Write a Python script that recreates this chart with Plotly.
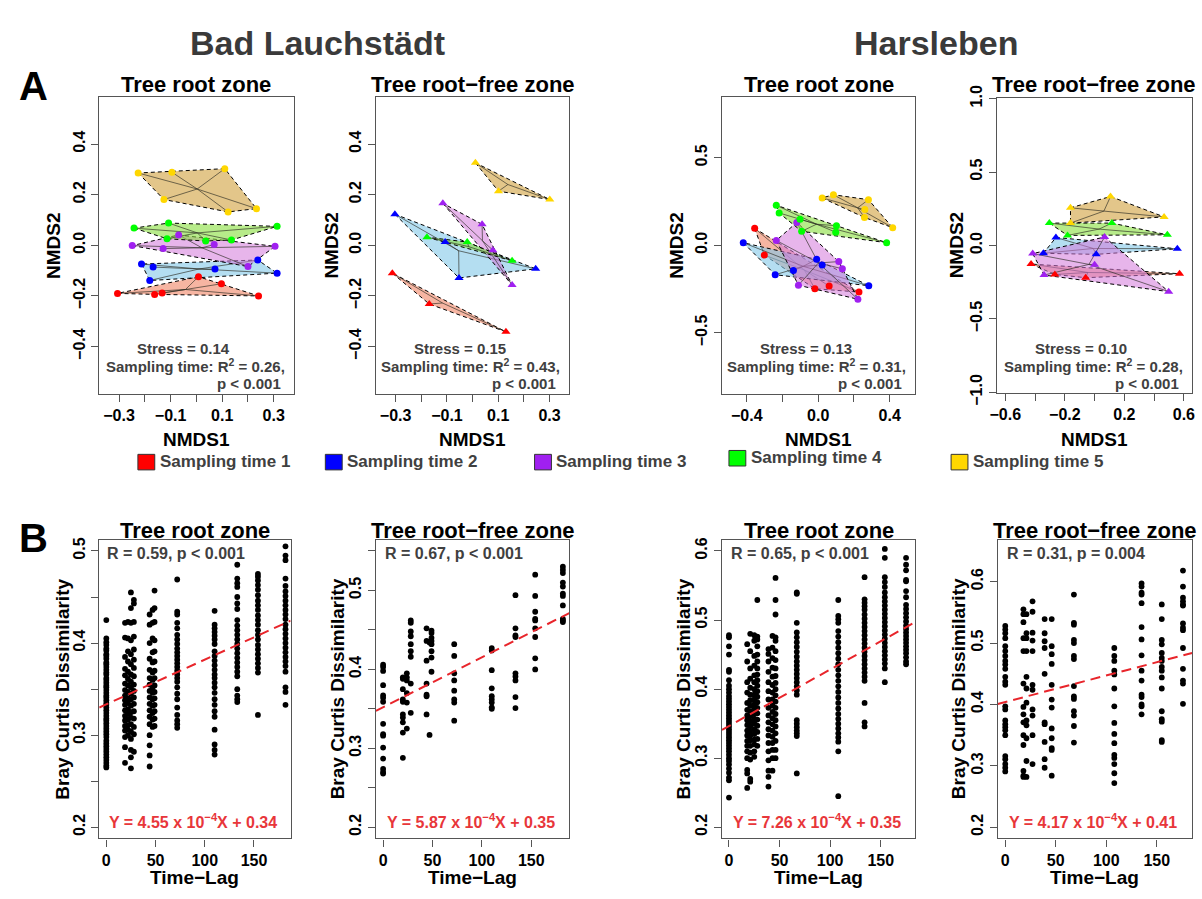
import plotly.graph_objects as go

W, H = 1202, 899
FONT = "Liberation Sans, Arial, Helvetica, sans-serif"
GRAY = "#404040"
AXC = "#555555"

# ---------------- data ----------------
site_titles = ["Bad Lauchstädt", "Harsleben"]
zone_titles = ["Tree root zone", "Tree root\u2212free zone", "Tree root zone", "Tree root\u2212free zone"]
group_names = ["Sampling time 1", "Sampling time 2", "Sampling time 3", "Sampling time 4", "Sampling time 5"]
group_colors = ["#FF0000", "#0000FF", "#A020F0", "#00FF00", "#FFD700"]
hull_fills = ["rgba(238,120,85,0.55)", "rgba(130,200,232,0.6)", "rgba(212,120,218,0.55)",
              "rgba(135,222,60,0.6)", "rgba(208,160,60,0.6)"]

# NMDS scores, one list per sampling time (1..5)
bl_root_nmds1 = [[-0.306, -0.162, -0.133, 0.008, 0.097, 0.241],
                 [-0.213, -0.168, -0.181, 0.072, 0.238, 0.313],
                 [-0.249, -0.129, -0.069, 0.069, 0.305, 0.200],
                 [-0.242, -0.108, -0.114, 0.036, 0.136, 0.313],
                 [-0.226, -0.095, 0.110, -0.126, 0.123, 0.233]]
bl_root_nmds2 = [[-0.190, -0.194, -0.188, -0.124, -0.152, -0.200],
                 [-0.074, -0.086, -0.139, -0.094, -0.058, -0.110],
                 [-0.001, -0.013, 0.041, 0.003, -0.004, -0.084],
                 [0.068, 0.088, 0.026, 0.017, 0.021, 0.075],
                 [0.286, 0.289, 0.303, 0.181, 0.132, 0.145]]

bl_free_nmds1 = [[-0.313, -0.169, 0.130],
                 [-0.303, -0.107, -0.053, 0.246],
                 [-0.116, 0.037, 0.079, 0.154],
                 [-0.178, -0.021, 0.154],
                 [0.011, 0.101, 0.301]]
bl_free_nmds2 = [[-0.110, -0.232, -0.342],
                 [0.123, 0.013, -0.129, -0.093],
                 [0.166, 0.083, -0.019, -0.157],
                 [0.032, 0.013, -0.061],
                 [0.326, 0.214, 0.181]]

h_root_nmds1 = [[-0.356, -0.302, -0.019, 0.061, 0.228],
                [-0.420, -0.241, -0.139, -0.009, 0.022, 0.283],
                [-0.235, -0.120, -0.111, 0.115, 0.135, 0.222],
                [-0.235, -0.219, -0.102, -0.093, 0.102, 0.098, 0.383],
                [0.022, 0.085, 0.281, 0.261, 0.259, 0.417]]
h_root_nmds2 = [[0.097, -0.056, -0.248, -0.233, -0.267],
                [0.015, -0.168, -0.144, -0.080, -0.112, -0.231],
                [0.028, 0.131, -0.228, -0.093, -0.134, -0.308],
                [0.229, 0.185, 0.149, 0.080, 0.112, 0.075, 0.015],
                [0.271, 0.289, 0.261, 0.205, 0.159, 0.101]]

h_free_nmds1 = [[-0.427, -0.267, -0.060, 0.571],
                [-0.260, -0.344, 0.011, 0.556],
                [-0.416, -0.340, 0.000, 0.067, 0.498],
                [-0.304, -0.182, 0.116, 0.489],
                [-0.162, -0.162, 0.107, 0.467]]
h_free_nmds2 = [[-0.126, -0.197, -0.219, -0.192],
                [0.055, -0.053, -0.060, -0.022],
                [-0.055, -0.201, -0.130, 0.058, -0.314],
                [0.153, 0.069, 0.153, 0.073],
                [0.257, 0.153, 0.334, 0.195]]

stress_vals = ["0.14", "0.15", "0.13", "0.10"]
r2_vals = ["0.26", "0.43", "0.31", "0.28"]
p_perm = ["0.001", "0.001", "0.001", "0.001"]

# Bray-Curtis dissimilarity vs time lag (days); one list per time lag
bl_root_lags = [0, 19, 22, 25, 28, 44, 47, 49, 72, 110, 133, 154, 182]
bl_root_bc = [
    [0.425, 0.405, 0.401, 0.398, 0.394, 0.392, 0.388, 0.386, 0.383, 0.379, 0.377, 0.374, 0.371, 0.368,
     0.366, 0.362, 0.36, 0.357, 0.354, 0.352, 0.349, 0.346, 0.343, 0.341, 0.338, 0.335, 0.333, 0.33,
     0.327, 0.324, 0.321, 0.318, 0.316, 0.313, 0.31, 0.307, 0.304, 0.301, 0.298, 0.294, 0.291, 0.288,
     0.285, 0.282, 0.279, 0.276, 0.273, 0.27, 0.267, 0.265],
    [0.422, 0.406, 0.385, 0.372, 0.365, 0.356, 0.349, 0.343, 0.338, 0.333, 0.327, 0.321, 0.316, 0.31,
     0.305, 0.298, 0.287, 0.27],
    [0.423, 0.405, 0.391, 0.38, 0.369, 0.361, 0.354, 0.347, 0.34, 0.335, 0.328, 0.323, 0.317, 0.311,
     0.306, 0.3],
    [0.455, 0.438, 0.422, 0.403, 0.388, 0.377, 0.366, 0.358, 0.352, 0.345, 0.339, 0.332, 0.325, 0.319,
     0.312, 0.304, 0.296, 0.284, 0.276, 0.264],
    [0.447, 0.443, 0.423, 0.407, 0.393, 0.382, 0.373, 0.364, 0.355, 0.348, 0.341, 0.334, 0.326, 0.318,
     0.309, 0.301, 0.282],
    [0.431, 0.42, 0.4, 0.383, 0.371, 0.362, 0.355, 0.348, 0.341, 0.334, 0.327, 0.32, 0.312, 0.3, 0.289,
     0.278, 0.266],
    [0.436, 0.422, 0.405, 0.39, 0.379, 0.368, 0.36, 0.352, 0.346, 0.339, 0.332, 0.324, 0.317, 0.309],
    [0.457, 0.438, 0.423, 0.403, 0.391, 0.38, 0.37, 0.362, 0.354, 0.347, 0.34, 0.333, 0.326, 0.318, 0.31],
    [0.469, 0.434, 0.431, 0.422, 0.416, 0.409, 0.404, 0.399, 0.394, 0.39, 0.386, 0.382, 0.378, 0.374,
     0.37, 0.366, 0.362, 0.358, 0.352, 0.345, 0.339, 0.33, 0.322, 0.316, 0.312, 0.308],
    [0.435, 0.42, 0.416, 0.412, 0.408, 0.404, 0.399, 0.391, 0.386, 0.381, 0.376, 0.371, 0.366, 0.362,
     0.357, 0.352, 0.346, 0.339, 0.333, 0.326, 0.32, 0.306, 0.29, 0.284, 0.279],
    [0.485, 0.47, 0.465, 0.461, 0.45, 0.443, 0.437, 0.425, 0.419, 0.414, 0.409, 0.404, 0.399, 0.394,
     0.389, 0.384, 0.379, 0.374, 0.369, 0.364, 0.35, 0.343, 0.339, 0.336],
    [0.475, 0.472, 0.468, 0.463, 0.458, 0.452, 0.446, 0.441, 0.436, 0.43, 0.425, 0.42, 0.414, 0.409,
     0.404, 0.398, 0.393, 0.388, 0.383, 0.378, 0.373, 0.368, 0.322],
    [0.505, 0.495, 0.49, 0.47, 0.462, 0.456, 0.451, 0.446, 0.441, 0.436, 0.431, 0.426, 0.42, 0.415,
     0.41, 0.405, 0.4, 0.395, 0.39, 0.385, 0.38, 0.375, 0.369, 0.352, 0.347, 0.333],
]

bl_free_lags = [0, 20, 24, 28, 44, 47, 49, 72, 110, 134, 154, 182]
bl_free_bc = [
    [0.406, 0.403, 0.398, 0.38, 0.367, 0.364, 0.359, 0.331, 0.318, 0.316, 0.301, 0.287, 0.274, 0.27, 0.268],
    [0.39, 0.388, 0.375, 0.362, 0.359, 0.343, 0.339, 0.333, 0.32, 0.288],
    [0.395, 0.39, 0.386, 0.37, 0.358, 0.325],
    [0.462, 0.459, 0.448, 0.442, 0.432, 0.423, 0.416, 0.382, 0.345],
    [0.452, 0.436, 0.411, 0.382, 0.368, 0.366, 0.343],
    [0.434, 0.317],
    [0.449, 0.446, 0.44, 0.436, 0.432, 0.423, 0.415, 0.397],
    [0.432, 0.417, 0.395, 0.386, 0.373, 0.362, 0.358, 0.335],
    [0.427, 0.424, 0.399, 0.376, 0.366, 0.362, 0.358, 0.352, 0.35],
    [0.494, 0.452, 0.443, 0.441, 0.395, 0.391, 0.386, 0.365, 0.351],
    [0.52, 0.493, 0.473, 0.464, 0.462, 0.452, 0.441, 0.414, 0.4],
    [0.53, 0.526, 0.522, 0.51, 0.505, 0.496, 0.493, 0.481, 0.464, 0.462, 0.46],
]

h_root_lags = [0, 18, 21, 25, 28, 39, 43, 46, 67, 108, 134, 154, 175]
h_root_bc = [
    [0.478, 0.475, 0.462, 0.45, 0.428, 0.425, 0.413, 0.405, 0.4, 0.395, 0.39, 0.386, 0.382, 0.378, 0.374,
     0.37, 0.366, 0.362, 0.358, 0.354, 0.35, 0.346, 0.342, 0.338, 0.334, 0.33, 0.326, 0.322, 0.318, 0.314,
     0.31, 0.305, 0.3, 0.296, 0.291, 0.285, 0.279, 0.272, 0.268, 0.243],
    [0.465, 0.44, 0.41, 0.395, 0.38, 0.37, 0.362, 0.355, 0.348, 0.34, 0.333, 0.325, 0.318, 0.31, 0.3,
     0.283, 0.278, 0.257],
    [0.48, 0.455, 0.43, 0.415, 0.402, 0.392, 0.384, 0.376, 0.368, 0.361, 0.354, 0.347, 0.34, 0.333,
     0.326, 0.318, 0.308, 0.298, 0.27, 0.266],
    [0.478, 0.47, 0.448, 0.434, 0.42, 0.41, 0.4, 0.392, 0.385, 0.378, 0.371, 0.364, 0.357, 0.35, 0.342,
     0.335, 0.327, 0.32, 0.31, 0.302],
    [0.529, 0.476, 0.472, 0.462, 0.45, 0.44, 0.43, 0.421, 0.413, 0.405, 0.397, 0.389, 0.381, 0.373,
     0.365, 0.356, 0.347, 0.338, 0.328, 0.318],
    [0.458, 0.451, 0.44, 0.425, 0.41, 0.397, 0.385, 0.373, 0.362, 0.352, 0.342, 0.333, 0.322, 0.31,
     0.297, 0.282, 0.273, 0.259],
    [0.477, 0.46, 0.445, 0.431, 0.418, 0.406, 0.395, 0.385, 0.376, 0.367, 0.358, 0.349, 0.34, 0.331,
     0.322, 0.312, 0.3, 0.282],
    [0.561, 0.529, 0.508, 0.475, 0.47, 0.455, 0.442, 0.43, 0.419, 0.409, 0.4, 0.391, 0.382, 0.373,
     0.364, 0.355, 0.346, 0.336, 0.325, 0.312, 0.3],
    [0.54, 0.538, 0.496, 0.482, 0.475, 0.468, 0.461, 0.454, 0.447, 0.44, 0.434, 0.428, 0.422, 0.416,
     0.41, 0.404, 0.398, 0.392, 0.355, 0.35, 0.345, 0.34, 0.336, 0.332, 0.278],
    [0.529, 0.506, 0.501, 0.496, 0.484, 0.476, 0.468, 0.46, 0.452, 0.444, 0.436, 0.428, 0.42, 0.412,
     0.404, 0.396, 0.388, 0.38, 0.372, 0.364, 0.357, 0.35, 0.343, 0.336, 0.33, 0.324, 0.31, 0.245],
    [0.562, 0.53, 0.525, 0.52, 0.515, 0.508, 0.502, 0.496, 0.49, 0.484, 0.478, 0.472, 0.466, 0.46,
     0.454, 0.448, 0.442, 0.436, 0.43, 0.424, 0.418, 0.412, 0.38, 0.352, 0.346],
    [0.603, 0.59, 0.562, 0.555, 0.548, 0.54, 0.533, 0.527, 0.521, 0.515, 0.509, 0.503, 0.497, 0.491,
     0.485, 0.479, 0.473, 0.467, 0.461, 0.455, 0.449, 0.443, 0.437, 0.43, 0.41],
    [0.59, 0.58, 0.572, 0.558, 0.556, 0.542, 0.533, 0.522, 0.516, 0.51, 0.504, 0.498, 0.492, 0.487,
     0.482, 0.477, 0.472, 0.467, 0.462, 0.457, 0.452, 0.446, 0.44, 0.436],
]

h_free_lags = [0, 18, 21, 27, 39, 46, 68, 108, 135, 155, 176]
h_free_bc = [
    [0.528, 0.522, 0.516, 0.508, 0.495, 0.487, 0.479, 0.471, 0.465, 0.458, 0.445, 0.437, 0.432, 0.397,
     0.392, 0.374, 0.368, 0.363, 0.358, 0.35, 0.316, 0.311, 0.303, 0.297, 0.291],
    [0.555, 0.547, 0.534, 0.508, 0.487, 0.434, 0.396, 0.384, 0.371, 0.35, 0.334, 0.292, 0.284, 0.282],
    [0.547, 0.516, 0.508, 0.487, 0.445, 0.426, 0.403, 0.374, 0.366, 0.345, 0.308, 0.282],
    [0.568, 0.551, 0.517, 0.504, 0.487, 0.432, 0.424, 0.392, 0.382, 0.35, 0.303],
    [0.539, 0.516, 0.503, 0.492, 0.45, 0.371, 0.368, 0.339, 0.311, 0.297],
    [0.539, 0.495, 0.482, 0.466, 0.432, 0.408, 0.395, 0.361, 0.345, 0.329, 0.326, 0.284],
    [0.579, 0.533, 0.53, 0.505, 0.5, 0.479, 0.474, 0.43, 0.413, 0.409, 0.389, 0.382, 0.365, 0.338],
    [0.492, 0.479, 0.471, 0.455, 0.449, 0.426, 0.397, 0.37, 0.352, 0.337, 0.318, 0.313, 0.303, 0.288, 0.272],
    [0.597, 0.592, 0.582, 0.579, 0.565, 0.526, 0.506, 0.48, 0.455, 0.439, 0.416, 0.412, 0.4, 0.397, 0.384],
    [0.563, 0.539, 0.505, 0.498, 0.484, 0.476, 0.471, 0.461, 0.455, 0.444, 0.426, 0.389, 0.376, 0.372,
     0.342, 0.339],
    [0.618, 0.592, 0.574, 0.568, 0.563, 0.561, 0.532, 0.525, 0.521, 0.492, 0.458, 0.439, 0.434, 0.401],
]

# regression lines (slope per day, intercept) as drawn, and printed labels
fit_slope = [4.85e-4, 6.33e-4, 8.18e-4, 4.32e-4]
fit_intercept = [0.3335, 0.352, 0.3466, 0.404]
eq_slope_txt = ["4.55", "5.87", "7.26", "4.17"]
eq_int_txt = ["0.34", "0.35", "0.35", "0.41"]
mantel_txt = ["R = 0.59, p &lt; 0.001", "R = 0.67, p &lt; 0.001", "R = 0.65, p &lt; 0.001", "R = 0.31, p = 0.004"]

# tick definitions (labelled ticks + unlabelled minor ticks)
a_xticks = [[-0.3, -0.1, 0.1, 0.3], [-0.3, -0.1, 0.1, 0.3], [-0.4, 0.0, 0.4], [-0.6, -0.2, 0.2, 0.6]]
a_xtext = [["\u22120.3", "\u22120.1", "0.1", "0.3"], ["\u22120.3", "\u22120.1", "0.1", "0.3"],
           ["\u22120.4", "0.0", "0.4"], ["\u22120.6", "\u22120.2", "0.2", "0.6"]]
a_xminor = [[-0.2, 0.0, 0.2], [-0.2, 0.0, 0.2], [-0.2, 0.2], [-0.4, 0.0, 0.4]]
a_yticks = [[-0.4, -0.2, 0.0, 0.2, 0.4], [-0.4, -0.2, 0.0, 0.2, 0.4], [-0.5, 0.0, 0.5], [-1.0, -0.5, 0.0, 0.5, 1.0]]
a_ytext = [["\u22120.4", "\u22120.2", "0.0", "0.2", "0.4"], ["\u22120.4", "\u22120.2", "0.0", "0.2", "0.4"],
           ["\u22120.5", "0.0", "0.5"], ["\u22121.0", "\u22120.5", "0.0", "0.5", "1.0"]]
b_xticks = [0, 50, 100, 150]
b_yticks = [[0.2, 0.3, 0.4, 0.5], [0.2, 0.3, 0.4, 0.5], [0.2, 0.3, 0.4, 0.5, 0.6], [0.2, 0.3, 0.4, 0.5, 0.6]]
b_yminor = [[0.25, 0.35, 0.45], [0.25, 0.35, 0.45, 0.55], [], []]

# ---------------- layout geometry (pixels) ----------------
a_boxes = [(93, 289, 87, 393), (372, 567, 87, 393), (721, 916, 87, 393), (998, 1195, 88, 392)]
b_boxes = [(93, 286, 543, 850), (372, 567, 543, 850), (721, 916, 543, 850), (999, 1195, 543, 850)]
a_xr = [[-0.377, 0.377], [-0.377, 0.377], [-0.539, 0.544], [-0.658, 0.655]]
a_yr = [[-0.588, 0.588], [-0.588, 0.588], [-0.85, 0.85], [-1.005, 1.008]]
b_xr = [[-7.2, 187.2], [-7.3, 188.5], [-6.9, 184.2], [-7.5, 185.0]]
b_yr = [[0.188, 0.512], [0.186, 0.564], [0.184, 0.616], [0.182, 0.668]]


def px(xp):
    return xp / W


def py(yp):
    return 1 - yp / H


def convex_hull(points):
    pts = sorted(set(points))
    if len(pts) <= 2:
        return pts

    def cross(o, a, b):
        return (a[0] - o[0]) * (b[1] - o[1]) - (a[1] - o[1]) * (b[0] - o[0])
    lower = []
    for p in pts:
        while len(lower) >= 2 and cross(lower[-2], lower[-1], p) <= 0:
            lower.pop()
        lower.append(p)
    upper = []
    for p in reversed(pts):
        while len(upper) >= 2 and cross(upper[-2], upper[-1], p) <= 0:
            upper.pop()
        upper.append(p)
    return lower[:-1] + upper[:-1]


fig = go.Figure()
layout = dict(width=W, height=H, margin=dict(l=0, r=0, t=0, b=0), paper_bgcolor="white",
              plot_bgcolor="white", showlegend=False)
annotations = []
shapes = []

tickfont = dict(family=FONT, size=16, color="black", weight="bold")


def axis_common(minor_vals):
    d = dict(showline=True, mirror=True, linecolor=AXC, linewidth=1.3, ticks="outside",
             ticklen=7, tickwidth=1.2, tickcolor=AXC, showgrid=False, zeroline=False,
             tickfont=tickfont, fixedrange=True)
    if minor_vals:
        d["minor"] = dict(tickmode="array", tickvals=minor_vals, ticks="outside", ticklen=7,
                          tickwidth=1.2, tickcolor=AXC, showgrid=False)
    return d


def ann(x, y, text, size, color="black", xanchor="center", angle=0):
    annotations.append(dict(x=px(x), y=py(y), xref="paper", yref="paper", text=text, showarrow=False,
                            xanchor=xanchor, yanchor="middle", textangle=angle,
                            font=dict(family=FONT, size=size, color=color)))


# ---------------- Panel A: NMDS ----------------
nmds_x = [bl_root_nmds1, bl_free_nmds1, h_root_nmds1, h_free_nmds1]
nmds_y = [bl_root_nmds2, bl_free_nmds2, h_root_nmds2, h_free_nmds2]
symbols = ["circle", "triangle-up", "circle", "triangle-up"]

for i in range(4):
    k = i + 1
    xa, ya = "x%d" % k, "y%d" % k
    l, r, t, b = a_boxes[i]
    xax = axis_common(a_xminor[i])
    xax.update(domain=[px(l), px(r)], range=a_xr[i], tickmode="array", tickvals=a_xticks[i],
               ticktext=a_xtext[i], anchor=ya)
    yax = axis_common(None)
    yax.update(domain=[py(b), py(t)], range=a_yr[i], tickmode="array", tickvals=a_yticks[i],
               ticktext=a_ytext[i], tickangle=-90, anchor=xa)
    layout["xaxis%d" % k] = xax
    layout["yaxis%d" % k] = yax

    for g in range(5):
        xs, ys = nmds_x[i][g], nmds_y[i][g]
        hull = convex_hull(list(zip(xs, ys)))
        hx = [p[0] for p in hull] + [hull[0][0]]
        hy = [p[1] for p in hull] + [hull[0][1]]
        fig.add_trace(go.Scatter(x=hx, y=hy, mode="lines", fill="toself", fillcolor=hull_fills[g],
                                 line=dict(color="black", width=1, dash="4px,3px"),
                                 xaxis=xa, yaxis=ya, hoverinfo="skip"))
        cx, cy = sum(xs) / len(xs), sum(ys) / len(ys)
        sx, sy = [], []
        for xv, yv in zip(xs, ys):
            sx += [cx, xv, None]
            sy += [cy, yv, None]
        fig.add_trace(go.Scatter(x=sx, y=sy, mode="lines", line=dict(color="rgba(45,45,35,0.65)", width=1),
                                 xaxis=xa, yaxis=ya, hoverinfo="skip"))
    for g in range(5):
        fig.add_trace(go.Scatter(x=nmds_x[i][g], y=nmds_y[i][g], mode="markers",
                                 marker=dict(symbol=symbols[i], size=7 if symbols[i] == "circle" else 8,
                                             color=group_colors[g], line=dict(width=0)),
                                 name=group_names[g], xaxis=xa, yaxis=ya))

    cxp = (l + r) / 2
    ann(cxp, 75, "<b>%s</b>" % zone_titles[i], 22)
    ann(cxp, 440, "<b>NMDS1</b>", 19)
    ylab_x = [47, 327, 675, 957][i]
    ann(ylab_x, (t + b) / 2, "<b>NMDS2</b>", 19, angle=-90)
    ann(cxp - 13, 346, "<b>Stress = %s</b>" % stress_vals[i], 15, GRAY)
    ann(r - 7, 364, "<b>Sampling time: R<sup>2</sup> = %s,</b>" % r2_vals[i], 15, GRAY, xanchor="right")
    ann(r - 11, 382, "<b>p &lt; %s</b>" % p_perm[i], 15, GRAY, xanchor="right")

# ---------------- Panel B: distance decay ----------------
b_lags = [bl_root_lags, bl_free_lags, h_root_lags, h_free_lags]
b_bc = [bl_root_bc, bl_free_bc, h_root_bc, h_free_bc]

for i in range(4):
    k = i + 5
    xa, ya = "x%d" % k, "y%d" % k
    l, r, t, b = b_boxes[i]
    xax = axis_common(None)
    xax.update(domain=[px(l), px(r)], range=b_xr[i], tickmode="array", tickvals=b_xticks, anchor=ya)
    yax = axis_common(b_yminor[i])
    yax.update(domain=[py(b), py(t)], range=b_yr[i], tickmode="array", tickvals=b_yticks[i],
               tickformat=".1f", tickangle=-90, anchor=xa)
    layout["xaxis%d" % k] = xax
    layout["yaxis%d" % k] = yax

    xs, ys = [], []
    for lag, vals in zip(b_lags[i], b_bc[i]):
        xs += [lag] * len(vals)
        ys += vals
    fig.add_trace(go.Scatter(x=xs, y=ys, mode="markers", marker=dict(color="black", size=5.8),
                             xaxis=xa, yaxis=ya))
    x0, x1 = b_xr[i]
    fig.add_trace(go.Scatter(x=[x0, x1],
                             y=[fit_intercept[i] + fit_slope[i] * x0, fit_intercept[i] + fit_slope[i] * x1],
                             mode="lines", line=dict(color="#E8252B", width=2, dash="10px,6px"),
                             xaxis=xa, yaxis=ya, hoverinfo="skip"))

    cxp = (l + r) / 2
    ann(cxp, 533, "<b>%s</b>" % zone_titles[i], 22)
    ann(cxp, 890, "<b>Time\u2212Lag</b>", 19)
    ylab_x = [56, 333, 682, 959][i]
    ann(ylab_x, (t + b) / 2, "<b>Bray Curtis Dissimilarity</b>", 19, angle=-90)
    ann(cxp - 19, 557, "<b>%s</b>" % mantel_txt[i], 16, GRAY)
    ann(cxp - 2, 832, "<b>Y = %s x 10<sup>\u22124</sup>X + %s</b>" % (eq_slope_txt[i], eq_int_txt[i]),
        16, "#E8363A")

# ---------------- titles & legend ----------------
ann(313, 32, "<b>%s</b>" % site_titles[0], 34, "#3a3a3a")
ann(937, 32, "<b>%s</b>" % site_titles[1], 34, "#3a3a3a")
ann(27, 76, "<b>A</b>", 40)
ann(27, 541, "<b>B</b>", 40)

leg_sq_x = [132, 321, 532, 728, 952]
leg_y = [462, 462, 462, 458, 462]
for g in range(5):
    x0 = leg_sq_x[g]
    yc = leg_y[g] + 1
    shapes.append(dict(type="rect", xref="paper", yref="paper", x0=px(x0), x1=px(x0 + 17),
                       y0=py(yc + 8), y1=py(yc - 8), fillcolor=group_colors[g],
                       line=dict(color="#333333", width=1)))
    ann(x0 + 20, leg_y[g], "<b>%s</b>" % group_names[g], 17, GRAY, xanchor="left")

layout["annotations"] = annotations
layout["shapes"] = shapes
fig.update_layout(**layout)
fig.write_html("out.html", config={"displayModeBar": False},
               post_script="document.body.style.margin='0px';document.body.style.padding='0px';"
                           "document.documentElement.style.overflow='hidden';")
